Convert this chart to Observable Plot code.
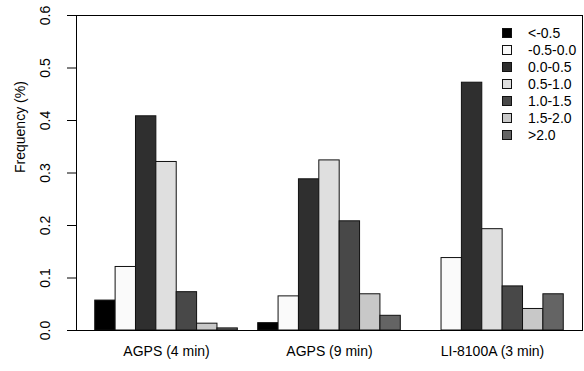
<!DOCTYPE html>
<html>
<head>
<meta charset="utf-8">
<script src="https://cdn.jsdelivr.net/npm/d3@7"></script>
<script src="https://cdn.jsdelivr.net/npm/@observablehq/plot@0.6"></script>
<style>
  html, body { margin: 0; padding: 0; background: #fff; }
  #wrap { position: relative; width: 584px; height: 371px; font-family: "Liberation Sans", Arial, sans-serif; }
  #legend { position: absolute; left: 502px; top: 24px; font-size: 14px; color: #000; }
  .row { display: flex; align-items: center; height: 17.1px; }
  .sw { width: 8px; height: 8px; border: 1px solid #111; margin-right: 16px; box-sizing: content-box; }
</style>
</head>
<body>
<div id="wrap"><div id="legend"></div></div>
<script>
const groups = ["AGPS (4 min)", "AGPS (9 min)", "LI-8100A (3 min)"];
const bins = ["<-0.5", "-0.5-0.0", "0.0-0.5", "0.5-1.0", "1.0-1.5", "1.5-2.0", ">2.0"];
const binColors = ["#000000", "#fafafa", "#2f2f2f", "#dfdfdf", "#484848", "#c8c8c8", "#646464"];
const agps4 = [0.057, 0.121, 0.408, 0.321, 0.073, 0.013, 0.004];
const agps9 = [0.014, 0.065, 0.288, 0.324, 0.208, 0.069, 0.028];
const li8100 = [0.000, 0.138, 0.472, 0.193, 0.084, 0.041, 0.069];
const yTicks = [0, 0.1, 0.2, 0.3, 0.4, 0.5, 0.6];

const seriesByGroup = [agps4, agps9, li8100];
const key = (g, b) => g + "|" + b;
const data = [];
groups.forEach((g, gi) => bins.forEach((b, bi) => data.push({group: g, bin: b, key: key(g, b), value: seriesByGroup[gi][bi]})));
const xDomain = [];
groups.forEach((g, gi) => {
  if (gi > 0) xDomain.push("spacer" + gi);
  bins.forEach(b => xDomain.push(key(g, b)));
});

const chart = Plot.plot({
  width: 584,
  height: 371,
  marginLeft: 76,
  marginRight: 2,
  marginTop: 15,
  marginBottom: 41,
  style: {fontFamily: "'Liberation Sans', Arial, sans-serif", fontSize: "14px", background: "#fff", color: "#000"},
  x: {type: "band", domain: xDomain, paddingInner: 0, paddingOuter: 0.92, round: false, axis: null},
  y: {domain: [0, 0.6], axis: null},
  color: {domain: bins, range: binColors},
  marks: [
    Plot.barY(data, {x: "key", y: "value", fill: "bin", stroke: "#111", strokeWidth: 1}),
    Plot.frame({stroke: "#000", strokeWidth: 1}),
    Plot.axisY({ticks: yTicks, tickFormat: d3.format(".1f"), tickSize: 9, tickPadding: 18, tickRotate: -90, label: null, stroke: "#000", strokeOpacity: 1}),
    Plot.axisX({ticks: groups.map(g => key(g, bins[3])), tickFormat: k => k.split("|")[0], tickSize: 0, tickPadding: 16, label: null}),
    Plot.text(["Frequency (%)"], {frameAnchor: "left", rotate: -90, dx: -56, fontSize: 14, fill: "#000"})
  ]
});
const wrap = document.getElementById("wrap");
wrap.insertBefore(chart, wrap.firstChild);
chart.style.position = "absolute";
chart.style.left = "0";
chart.style.top = "0";

const legend = document.getElementById("legend");
bins.forEach((b, i) => {
  const row = document.createElement("div");
  row.className = "row";
  const sw = document.createElement("div");
  sw.className = "sw";
  sw.style.background = binColors[i];
  const t = document.createElement("span");
  t.textContent = b;
  row.appendChild(sw);
  row.appendChild(t);
  legend.appendChild(row);
});
</script>
</body>
</html>
